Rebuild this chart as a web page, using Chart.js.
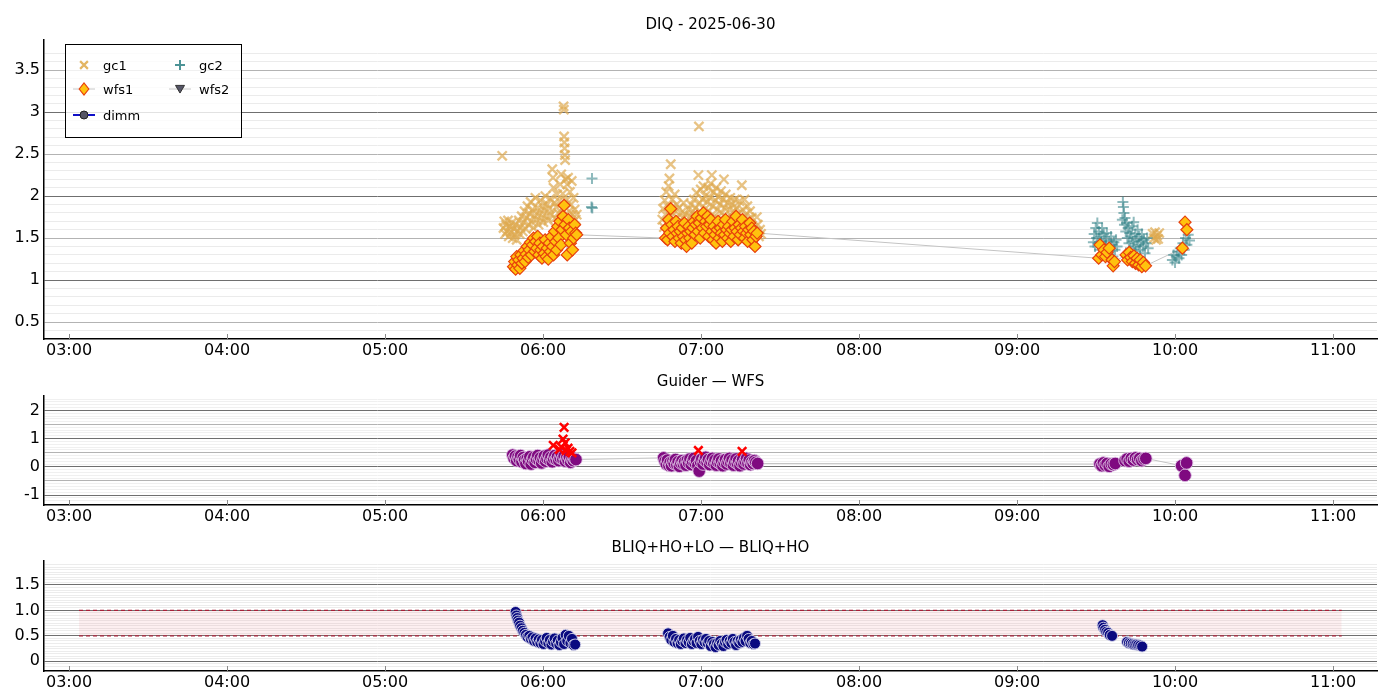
<!DOCTYPE html>
<html>
<head>
<meta charset="utf-8">
<title>DIQ - 2025-06-30</title>
<script src="https://cdn.jsdelivr.net/npm/chart.js@4.4.1/dist/chart.umd.min.js"></script>
<style>
  body { margin: 0; background: #fff; }
  canvas { position: absolute; left: 0; }
</style>
</head>
<body>
<canvas id="diq" width="1400" height="362" style="top:0"></canvas>
<canvas id="gw" width="1400" height="168" style="top:362px"></canvas>
<canvas id="bliq" width="1400" height="170" style="top:530px"></canvas>
<script>
// times are minutes after 00:00 UT

// DIQ panel
const gc1Time = [
  344.5,345.0,345.3,345.6,346.0,346.3,346.7,347.0,347.4,347.8,
  348.1,348.5,348.9,349.3,349.6,350.0,350.4,350.8,351.1,351.5,
  351.9,352.3,352.6,353.0,353.4,353.8,354.1,354.5,354.9,355.3,
  355.6,356.0,356.4,356.8,357.1,357.5,357.9,358.3,358.6,359.0,
  359.4,359.8,360.1,360.5,360.9,361.3,361.6,362.0,362.4,362.8,
  363.1,363.5,363.8,364.0,364.3,364.7,365.0,365.4,365.8,366.2,
  366.5,366.9,367.2,367.5,367.8,367.9,368.0,368.1,368.2,368.3,
  368.4,368.6,368.9,369.2,369.5,369.9,370.2,370.6,370.9,371.3,
  371.6,372.0,372.4,372.8,
  405.3,405.6,405.9,406.2,406.5,406.8,407.1,407.4,407.7,408.0,
  408.5,408.8,409.1,409.4,409.7,410.0,410.4,410.7,411.0,411.4,
  411.7,412.0,412.4,412.7,413.1,413.4,413.8,414.1,414.5,414.8,
  415.2,415.5,415.9,416.2,416.6,416.9,417.3,417.6,418.0,418.3,
  418.7,419.0,419.2,419.5,419.9,420.2,420.6,420.9,421.3,421.6,
  422.0,422.3,422.7,423.0,423.4,423.7,424.1,424.4,424.8,425.1,
  425.5,425.8,426.2,426.5,426.9,427.2,427.6,427.9,428.3,428.7,
  429.0,429.4,429.7,430.1,430.4,430.8,431.1,431.5,431.8,432.2,
  432.5,432.9,433.2,433.6,433.9,434.3,434.6,435.0,435.5,435.8,
  436.2,436.5,436.9,437.2,437.6,437.9,438.3,438.6,439.0,439.3,
  439.7,440.0,440.4,440.8,441.2,441.6,442.0,442.4,442.8,
  591.5,592.0,592.4,592.8,593.2,593.6,594.0
];
const gc1Val = [
  2.48,1.62,1.70,1.55,1.66,1.58,1.71,1.52,1.64,1.57,
  1.68,1.50,1.61,1.54,1.66,1.48,1.59,1.71,1.55,1.63,
  1.76,1.58,1.69,1.82,1.61,1.74,1.88,1.66,1.79,1.93,
  1.70,1.84,1.62,1.77,1.98,1.72,1.86,1.66,1.80,1.95,
  1.74,1.88,1.69,1.83,2.00,1.76,1.90,1.71,1.85,1.97,
  1.78,2.32,2.22,2.10,1.92,1.74,1.87,2.02,1.80,1.94,
  2.14,2.26,1.85,2.03,3.07,3.03,2.71,2.64,2.57,2.49,
  2.43,2.20,1.95,2.14,2.22,1.82,2.05,1.90,2.18,1.78,
  1.98,1.84,1.72,1.78,
  1.72,1.85,1.63,1.95,1.78,2.05,1.68,1.88,2.12,2.21,
  2.38,1.76,1.96,1.70,1.84,2.02,1.66,1.90,1.74,1.58,
  1.86,1.69,1.80,1.62,1.74,1.92,1.65,1.78,1.58,1.70,
  1.84,1.66,1.76,1.90,1.62,1.82,1.96,1.71,1.86,2.04,
  1.75,2.25,2.83,1.92,2.08,1.80,1.96,2.12,1.84,2.00,
  1.70,1.93,2.10,1.82,1.98,2.15,2.25,1.88,2.05,1.76,
  1.95,2.10,1.84,1.99,1.72,1.90,2.06,1.80,1.96,2.20,
  1.86,2.02,1.74,1.92,1.66,1.84,1.98,1.76,1.90,1.68,
  1.82,1.96,1.72,1.86,1.64,1.80,1.94,1.70,2.13,1.84,
  1.66,1.96,1.78,1.60,1.88,1.72,1.56,1.82,1.66,1.74,
  1.50,1.62,1.46,1.58,1.75,1.66,1.52,1.60,1.55,
  1.55,1.50,1.57,1.48,1.53,1.49,1.56
];

const gc2Time = [
  378.4,378.6,378.7,
  569.0,569.3,569.6,569.9,570.2,570.5,570.8,571.1,571.4,571.7,
  572.0,572.3,572.6,572.9,573.2,573.5,573.8,574.1,574.4,574.7,
  575.0,575.3,575.7,576.0,576.4,576.8,577.2,577.6,578.0,
  580.0,580.2,580.4,580.6,580.8,581.0,581.3,581.6,581.9,582.2,
  582.5,582.8,583.1,583.4,583.7,584.0,584.3,584.6,584.9,585.2,
  585.5,585.8,586.1,586.4,586.7,587.0,587.4,587.8,588.2,588.6,
  589.0,589.4,589.8,
  599.0,599.5,600.0,600.5,601.0,601.5,602.0,602.5,603.0,603.5,
  604.0,604.5,605.0,605.5
];
const gc2Val = [
  1.87,2.21,1.86,
  1.45,1.55,1.40,1.62,1.50,1.68,1.44,1.58,1.36,1.52,
  1.46,1.62,1.40,1.55,1.33,1.48,1.42,1.56,1.38,1.30,
  1.46,1.35,1.52,1.42,1.28,1.45,1.36,1.48,1.40,
  1.72,1.93,1.87,1.80,1.66,1.74,1.58,1.68,1.50,1.62,
  1.44,1.56,1.38,1.52,1.64,1.46,1.69,1.40,1.55,1.34,
  1.48,1.60,1.42,1.52,1.36,1.46,1.55,1.40,1.48,1.32,
  1.44,1.50,1.38,
  1.24,1.30,1.21,1.28,1.34,1.26,1.38,1.30,1.44,1.36,
  1.50,1.42,1.54,1.47
];

const wfs1Time = [
  348.8,349.2,349.6,350.0,350.4,350.8,351.2,351.6,352.0,352.4,
  352.8,353.2,353.6,354.0,354.4,354.8,355.2,355.6,356.0,356.4,
  356.8,357.2,357.6,358.0,358.4,358.8,359.2,359.6,360.0,360.4,
  360.8,361.2,361.6,362.0,362.4,362.8,363.2,363.6,364.0,364.4,
  364.8,365.2,365.6,366.0,366.4,366.8,367.2,367.6,368.0,368.4,
  368.8,369.2,369.6,370.0,370.4,370.8,371.2,371.6,372.0,372.4,
  372.8,
  406.5,406.9,407.3,407.7,408.1,408.5,408.9,409.3,409.7,410.1,
  410.5,410.9,411.3,411.7,412.1,412.5,412.9,413.3,413.7,414.1,
  414.5,414.9,415.3,415.7,416.1,416.5,416.9,417.3,417.7,418.1,
  418.5,418.9,419.3,419.7,420.1,420.5,420.9,421.3,421.7,422.1,
  422.5,422.9,423.3,423.7,424.1,424.5,424.9,425.3,425.7,426.1,
  426.5,426.9,427.3,427.7,428.1,428.5,428.9,429.3,429.7,430.1,
  430.5,430.9,431.3,431.7,432.1,432.5,432.9,433.3,433.7,434.1,
  434.5,434.9,435.3,435.7,436.1,436.5,436.9,437.3,437.7,438.1,
  438.5,438.9,439.3,439.7,440.1,440.5,440.9,441.3,
  571.0,571.5,572.2,573.0,573.6,574.2,575.0,576.1,576.5,577.0,
  581.4,582.0,582.6,583.2,583.8,584.4,585.0,585.6,586.2,586.8,
  587.4,588.0,588.8,
  602.8,603.8,604.5
];
const wfs1Val = [
  1.16,1.22,1.13,1.28,1.18,1.24,1.14,1.30,1.20,1.26,
  1.35,1.22,1.31,1.40,1.27,1.36,1.45,1.30,1.42,1.50,
  1.34,1.46,1.38,1.52,1.30,1.44,1.36,1.26,1.40,1.32,
  1.48,1.28,1.38,1.25,1.44,1.34,1.52,1.40,1.30,1.58,
  1.46,1.36,1.64,1.50,1.70,1.42,1.60,1.76,1.89,1.66,
  1.54,1.30,1.72,1.62,1.44,1.58,1.36,1.50,1.66,1.56,
  1.54,
  1.50,1.62,1.48,1.72,1.56,1.85,1.66,1.52,1.60,1.46,
  1.70,1.56,1.64,1.50,1.58,1.44,1.62,1.52,1.68,1.48,
  1.40,1.56,1.64,1.50,1.58,1.44,1.62,1.70,1.54,1.66,
  1.76,1.58,1.68,1.50,1.74,1.62,1.80,1.56,1.70,1.64,
  1.76,1.52,1.66,1.72,1.58,1.48,1.64,1.54,1.44,1.60,
  1.70,1.50,1.62,1.56,1.46,1.66,1.54,1.72,1.60,1.50,
  1.64,1.56,1.46,1.60,1.70,1.52,1.62,1.76,1.58,1.48,
  1.66,1.54,1.62,1.72,1.58,1.50,1.64,1.56,1.46,1.60,
  1.68,1.54,1.62,1.48,1.58,1.40,1.52,1.56,
  1.26,1.42,1.30,1.36,1.28,1.33,1.38,1.24,1.17,1.22,
  1.30,1.24,1.33,1.27,1.22,1.29,1.20,1.26,1.18,1.24,
  1.16,1.21,1.17,
  1.38,1.69,1.60
];

// no wfs2 or dimm samples this night
const wfs2Time = [], wfs2Val = [];
const dimmTime = [], dimmVal = [];

// Guider - WFS panel
const gwTime = [
  348.5,349.0,349.5,350.0,350.5,351.0,351.5,352.0,352.5,353.0,
  353.5,354.0,354.5,355.0,355.5,356.0,356.5,357.0,357.5,358.0,
  358.5,359.0,359.5,360.0,360.5,361.0,361.5,362.0,362.5,363.0,
  363.5,364.0,364.5,365.0,365.5,366.0,366.5,367.0,367.5,368.0,
  368.5,369.0,369.5,370.0,370.5,371.0,371.5,372.0,372.5,
  405.8,406.3,406.8,407.3,407.8,408.3,408.8,409.3,409.8,410.3,
  410.8,411.3,411.8,412.3,412.8,413.3,413.8,414.3,414.8,415.3,
  415.8,416.3,416.8,417.3,417.8,418.3,418.8,419.3,419.8,420.3,
  420.8,421.3,421.8,422.3,422.8,423.3,423.8,424.3,424.8,425.3,
  425.8,426.3,426.8,427.3,427.8,428.3,428.8,429.3,429.8,430.3,
  430.8,431.3,431.8,432.3,432.8,433.3,433.8,434.3,434.8,435.3,
  435.8,436.3,436.8,437.3,437.8,438.3,438.8,439.3,439.8,440.3,
  440.8,441.5,
  571.5,572.2,572.8,573.5,574.2,575.0,575.8,576.6,577.3,
  581.0,581.8,582.6,583.4,584.2,585.0,585.8,586.6,587.4,588.2,588.9,
  602.5,603.8,604.4
];
const gwVal = [
  0.42,0.30,0.38,0.22,0.35,0.27,0.40,0.18,0.33,0.24,
  0.12,0.30,0.20,0.36,0.10,0.26,0.34,0.16,0.28,0.40,
  0.22,0.32,0.14,0.27,0.38,0.20,0.30,0.42,0.24,0.34,
  0.18,0.30,0.40,0.26,0.36,0.22,0.32,0.44,0.28,0.38,
  0.20,0.33,0.24,0.36,0.16,0.28,0.22,0.30,0.26,
  0.32,0.20,0.10,0.24,0.06,0.16,0.04,0.20,0.12,0.26,
  0.08,0.18,0.02,0.14,0.22,0.10,0.18,0.06,0.24,0.14,
  0.28,0.08,0.20,0.30,0.12,0.22,0.04,-0.15,0.18,0.28,
  0.10,0.24,0.34,0.16,0.26,0.08,0.20,0.30,0.14,0.24,
  0.06,0.18,0.28,0.12,0.22,0.04,0.16,0.26,0.10,0.20,
  0.30,0.14,0.24,0.06,0.18,0.28,0.12,0.22,0.04,0.16,
  0.26,0.10,0.20,0.30,0.14,0.24,0.08,0.18,0.12,0.22,
  0.16,0.12,
  0.10,0.04,0.14,0.06,0.12,0.02,0.10,0.08,0.12,
  0.22,0.28,0.20,0.30,0.24,0.32,0.26,0.30,0.22,0.28,0.30,
  0.04,-0.30,0.14
];
const flagTime = [363.9,366.2,367.0,367.6,368.0,368.4,368.8,369.5,370.2,371.0,419.0,435.6];
const flagVal  = [0.76,0.62,0.70,0.98,1.40,0.85,0.58,0.66,0.55,0.50,0.58,0.55];

// BLIQ+HO+LO - BLIQ+HO panel
const bliqTime = [
  349.6,349.9,350.2,350.5,350.9,351.3,351.8,352.3,352.9,353.5,
  354.1,354.8,355.4,356.0,356.6,357.2,357.8,358.4,359.0,359.6,
  360.2,360.8,361.4,362.0,362.6,363.2,363.8,364.4,365.0,365.6,
  366.2,366.8,367.4,368.0,368.6,369.2,369.8,370.4,371.0,371.6,
  372.2,
  407.5,408.1,408.7,409.3,409.9,410.5,411.1,411.7,412.3,412.9,
  413.5,414.1,414.7,415.3,415.9,416.5,417.1,417.7,418.3,418.9,
  419.5,420.1,420.7,421.3,421.9,422.5,423.1,423.7,424.3,424.9,
  425.5,426.1,426.7,427.3,427.9,428.5,429.1,429.7,430.3,430.9,
  431.5,432.1,432.7,433.3,433.9,434.5,435.1,435.7,436.3,436.9,
  437.5,438.1,438.7,439.3,439.9,440.5,
  572.5,572.8,573.4,573.9,574.6,575.2,576.1,
  581.8,582.5,583.2,583.9,584.6,585.3,586.0,586.8,587.5
];
const bliqVal = [
  0.97,0.90,0.85,0.80,0.76,0.70,0.65,0.60,0.56,0.52,
  0.48,0.50,0.44,0.47,0.40,0.45,0.38,0.43,0.36,0.42,
  0.34,0.40,0.46,0.36,0.42,0.33,0.39,0.45,0.35,0.41,
  0.32,0.38,0.46,0.34,0.52,0.40,0.50,0.36,0.44,0.32,
  0.33,
  0.55,0.48,0.42,0.50,0.38,0.44,0.36,0.42,0.34,0.40,
  0.45,0.36,0.42,0.38,0.46,0.34,0.40,0.44,0.36,0.48,
  0.40,0.34,0.42,0.38,0.44,0.36,0.40,0.30,0.38,0.34,
  0.28,0.36,0.32,0.40,0.35,0.30,0.38,0.42,0.34,0.40,
  0.36,0.44,0.38,0.32,0.40,0.36,0.42,0.38,0.46,0.40,
  0.50,0.44,0.36,0.40,0.34,0.35,
  0.71,0.66,0.62,0.58,0.56,0.52,0.50,
  0.38,0.36,0.35,0.34,0.33,0.33,0.32,0.31,0.29
];
const bandTime = [183.8, 663.3];
const bandLow = [0.5, 0.5];
const bandHigh = [1.0, 1.0];

const X_MIN = 170.5, X_MAX = 676.7;

Chart.defaults.font.family = "'DejaVu Sans', sans-serif";
Chart.defaults.color = '#000';

const toPts = (t, v) => t.map((x, i) => ({ x: x, y: v[i] }));
const hhmm = m => String(Math.floor(m / 60)).padStart(2, '0') + ':' + String(m % 60).padStart(2, '0');
const near = (a, b) => Math.abs(a - b) < 1e-6;
const CLEAR = 'rgba(0,0,0,0)';

function xScale(h) {
    return {
        type: 'linear', min: X_MIN, max: X_MAX,
        ticks: {
            stepSize: 60, autoSkip: false, maxRotation: 0, padding: 2, includeBounds: false,
            font: { size: 16 }, color: '#000',
            callback: v => (v % 60 === 0 ? hhmm(v) : '')
        },
        grid: { display: false, drawTicks: false },
        border: { color: '#000', width: 1.5 },
        afterFit: s => { s.height = h; }
    };
}

function yScale(min, max, step, gridColor, label) {
    return {
        type: 'linear', min: min, max: max,
        ticks: {
            stepSize: step, autoSkip: false, padding: 4,
            font: { size: 16 }, color: '#000',
            callback: v => label(v)
        },
        grid: { drawTicks: false, lineWidth: 1, color: ctx => gridColor(ctx.tick.value) },
        border: { color: '#000', width: 1.5 },
        afterFit: s => { s.width = 44; }
    };
}

// grid levels: per tenth for DIQ and guider panels, per 0.05 for BLIQ
function tenthGrid(minor) {
    return v => {
        const r = v * 10, k = Math.round(r);
        if (!near(r, k)) return CLEAR;
        if (k % 10 === 0) return '#6f6f6f';
        if (k % 5 === 0) return '#b3b3b3';
        return minor;
    };
}
function bliqGrid(v) {
    const r = v * 20, k = Math.round(r);
    if (!near(r, k)) return CLEAR;
    return k % 10 === 0 ? '#6f6f6f' : '#ececec';
}

// title centred over the plot area
const panelTitle = {
    id: 'panelTitle',
    afterDraw(chart, args, opts) {
        const { ctx, chartArea } = chart;
        ctx.save();
        ctx.font = "15px 'DejaVu Sans', sans-serif";
        ctx.fillStyle = '#000';
        ctx.textAlign = 'center';
        ctx.textBaseline = 'middle';
        ctx.fillText(opts.text, (chartArea.left + chartArea.right) / 2, opts.y);
        ctx.restore();
    }
};

// short inward ticks on the time axis
const innerTicks = {
    id: 'innerTicks',
    afterDatasetsDraw(chart) {
        const { ctx, chartArea, scales } = chart;
        ctx.save();
        ctx.strokeStyle = '#8a8a8a';
        ctx.lineWidth = 1;
        scales.x.ticks.forEach(t => {
            if (t.value % 60 !== 0) return;
            const px = Math.round(scales.x.getPixelForValue(t.value)) + 0.5;
            ctx.beginPath();
            ctx.moveTo(px, chartArea.bottom);
            ctx.lineTo(px, chartArea.bottom - 5);
            ctx.stroke();
        });
        ctx.restore();
    }
};

function drawMarker(ctx, style, x, y, r) {
    ctx.beginPath();
    if (style === 'crossRot') {
        const d = r * Math.SQRT1_2;
        ctx.moveTo(x - d, y - d); ctx.lineTo(x + d, y + d);
        ctx.moveTo(x + d, y - d); ctx.lineTo(x - d, y + d);
    } else if (style === 'cross') {
        ctx.moveTo(x - r, y); ctx.lineTo(x + r, y);
        ctx.moveTo(x, y - r); ctx.lineTo(x, y + r);
    } else if (style === 'rectRot') {
        ctx.moveTo(x - r * 0.8, y); ctx.lineTo(x, y - r);
        ctx.lineTo(x + r * 0.8, y); ctx.lineTo(x, y + r); ctx.closePath();
    } else if (style === 'triangleDown') {
        ctx.moveTo(x - r, y - r * 0.8); ctx.lineTo(x + r, y - r * 0.8);
        ctx.lineTo(x, y + r * 0.9); ctx.closePath();
    } else {
        ctx.arc(x, y, r, 0, Math.PI * 2);
    }
}

// matplotlib-style boxed legend, two columns, inside the DIQ plot
const diqLegend = {
    id: 'diqLegend',
    afterDraw(chart) {
        const ctx = chart.ctx;
        const items = [
            { label: 'gc1', x: 84, y: 65, style: 'crossRot', r: 5.5, stroke: 'rgba(222,168,70,0.85)', lw: 2.2 },
            { label: 'wfs1', x: 84, y: 89, style: 'rectRot', r: 6, fill: '#ffc20e', stroke: '#e8400c', lw: 1.2, line: '#c8c8c8', lineW: 1 },
            { label: 'dimm', x: 84, y: 115, style: 'circle', r: 4, fill: '#565666', stroke: '#222', lw: 1, line: '#1010c8', lineW: 2 },
            { label: 'gc2', x: 180, y: 65, style: 'cross', r: 5, stroke: 'rgba(45,128,132,0.85)', lw: 2 },
            { label: 'wfs2', x: 180, y: 89, style: 'triangleDown', r: 4.5, fill: '#555566', stroke: '#333', lw: 1, line: '#c8c8c8', lineW: 1 }
        ];
        ctx.save();
        ctx.fillStyle = 'rgba(255,255,255,0.8)';
        ctx.fillRect(65, 44, 176, 93);
        ctx.strokeStyle = '#000';
        ctx.lineWidth = 1;
        ctx.strokeRect(65.5, 44.5, 176, 93);
        items.forEach(it => {
            if (it.line) {
                ctx.strokeStyle = it.line;
                ctx.lineWidth = it.lineW;
                ctx.beginPath();
                ctx.moveTo(it.x - 11, it.y); ctx.lineTo(it.x + 11, it.y);
                ctx.stroke();
            }
            drawMarker(ctx, it.style, it.x, it.y, it.r);
            if (it.fill) { ctx.fillStyle = it.fill; ctx.fill(); }
            ctx.strokeStyle = it.stroke;
            ctx.lineWidth = it.lw;
            ctx.stroke();
            ctx.fillStyle = '#000';
            ctx.font = "13px 'DejaVu Sans', sans-serif";
            ctx.textAlign = 'left';
            ctx.textBaseline = 'middle';
            ctx.fillText(it.label, it.x + 19, it.y + 1.5);
        });
        ctx.restore();
    }
};

function baseOptions(top, axisH, title, titleY, yOpts) {
    return {
        responsive: false,
        animation: false,
        events: [],
        layout: { padding: { left: 0, right: 23, top: top, bottom: 0 } },
        plugins: {
            legend: { display: false },
            tooltip: { enabled: false },
            panelTitle: { text: title, y: titleY }
        },
        scales: { x: xScale(axisH), y: yOpts }
    };
}

// DIQ
new Chart(document.getElementById('diq'), {
    type: 'scatter',
    data: {
        datasets: [
            { label: 'wfs1', data: toPts(wfs1Time, wfs1Val), pointStyle: 'rectRot', pointRadius: 6,
              backgroundColor: '#ffc20e', borderColor: '#e8400c', borderWidth: 1.2, order: 0 },
            { label: 'gc2', data: toPts(gc2Time, gc2Val), pointStyle: 'cross', pointRadius: 5.5,
              backgroundColor: CLEAR, borderColor: 'rgba(50,130,135,0.55)', borderWidth: 2, order: 1 },
            { label: 'gc1', data: toPts(gc1Time, gc1Val), pointStyle: 'crossRot', pointRadius: 6.5,
              backgroundColor: CLEAR, borderColor: 'rgba(222,170,80,0.7)', borderWidth: 2.3, order: 2 },
            { type: 'line', label: 'wfs1 track', data: toPts(wfs1Time, wfs1Val), borderColor: '#c4c4c4',
              borderWidth: 1, pointRadius: 0, fill: false, tension: 0, order: 3 },
            { label: 'wfs2', data: toPts(wfs2Time, wfs2Val), pointStyle: 'triangle', rotation: 180,
              backgroundColor: '#555566', order: 4 },
            { type: 'line', label: 'dimm', data: toPts(dimmTime, dimmVal), borderColor: '#1010c8',
              borderWidth: 2, pointBackgroundColor: '#565666', order: 4 }
        ]
    },
    options: baseOptions(40, 23, 'DIQ - 2025-06-30', 25,
        yScale(0.298, 3.86, 0.1, tenthGrid('#ebebeb'), v => {
            const k = Math.round(v * 10);
            if (!near(v * 10, k) || k % 5 !== 0 || k < 5) return '';
            return String(k / 10);
        })),
    plugins: [panelTitle, innerTicks, diqLegend]
});

// Guider - WFS
new Chart(document.getElementById('gw'), {
    type: 'scatter',
    data: {
        datasets: [
            { label: 'flagged', data: toPts(flagTime, flagVal), pointStyle: 'crossRot', pointRadius: 6,
              backgroundColor: CLEAR, borderColor: '#ff0000', borderWidth: 2.5, order: 0 },
            { label: 'guider - wfs', data: toPts(gwTime, gwVal), pointStyle: 'circle', pointRadius: 6.3,
              backgroundColor: '#7f0a80', borderColor: 'rgba(225,200,230,0.85)', borderWidth: 1, order: 1 },
            { type: 'line', label: 'track', data: toPts(gwTime, gwVal), borderColor: '#c4c4c4',
              borderWidth: 1, pointRadius: 0, fill: false, tension: 0, order: 2 }
        ]
    },
    options: baseOptions(34, 25, 'Guider \u2014 WFS', 20,
        yScale(-1.35, 2.51, 0.1, tenthGrid('#f0f0f0'), v => {
            const k = Math.round(v);
            return near(v, k) ? String(k) : '';
        })),
    plugins: [panelTitle, innerTicks]
});

// BLIQ+HO+LO - BLIQ+HO
new Chart(document.getElementById('bliq'), {
    type: 'scatter',
    data: {
        datasets: [
            { label: 'bliq', data: toPts(bliqTime, bliqVal), pointStyle: 'circle', pointRadius: 5.5,
              backgroundColor: '#0a0a80', borderColor: 'rgba(215,215,235,0.9)', borderWidth: 1, order: 0 },
            { type: 'line', label: 'upper', data: toPts(bandTime, bandHigh), borderColor: '#a82038',
              borderWidth: 1.2, borderDash: [4, 3], pointRadius: 0, tension: 0,
              fill: '+1', backgroundColor: 'rgba(240,120,130,0.12)', order: 1 },
            { type: 'line', label: 'lower', data: toPts(bandTime, bandLow), borderColor: '#a82038',
              borderWidth: 1.2, borderDash: [4, 3], pointRadius: 0, tension: 0, fill: false, order: 2 }
        ]
    },
    options: baseOptions(31, 29, 'BLIQ+HO+LO \u2014 BLIQ+HO', 18,
        yScale(-0.19, 1.97, 0.05, bliqGrid, v => {
            const k = Math.round(v * 20);
            if (!near(v * 20, k) || k % 10 !== 0) return '';
            return k === 0 ? '0' : (k / 20).toFixed(1);
        })),
    plugins: [panelTitle, innerTicks]
});
</script>
</body>
</html>
